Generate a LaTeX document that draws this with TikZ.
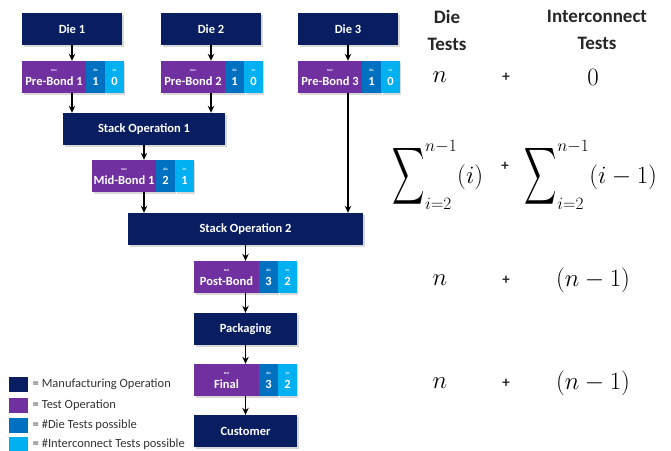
\documentclass[tikz,border=0pt]{standalone}
\usepackage{exscale}
\usepackage[no-math]{fontspec}
\setmainfont{Carlito}
\usetikzlibrary{arrows.meta,shadows,positioning}

\definecolor{navy}{RGB}{8,30,96}
\definecolor{tpurple}{RGB}{112,48,160}
\definecolor{dieblue}{RGB}{0,112,192}
\definecolor{intblue}{RGB}{0,176,240}

\newcommand{\tinylab}[1]{{\fontsize{3.5}{4}\selectfont #1}}
\newcommand{\bigsum}{\mathop{\vcenter{\hbox{\scalebox{0.9}[1.6]{$\displaystyle\sum$}}}}\nolimits}

\begin{document}
\begin{tikzpicture}[x=1pt,y=-1pt,
	box/.style={inner sep=0pt, minimum height=32pt, text=white,
		font=\bfseries\fontsize{12.5}{13}\selectfont,
		drop shadow={shadow xshift=1.5pt,shadow yshift=-1.5pt,opacity=.3,fill=gray}},
	mfg/.style={box, fill=navy},
	tst/.style={box, fill=tpurple, align=center},
	dcell/.style={box, fill=dieblue, minimum width=18.5pt, align=center},
	icell/.style={box, fill=intblue, minimum width=18.5pt, align=center},
	flow/.style={-{Stealth[length=7pt,width=6.5pt]}, line width=1.3pt},
	key/.style={minimum width=19pt, minimum height=15pt, inner sep=0pt},
	keytxt/.style={anchor=west, text=black!80, font=\fontsize{12.5}{13}\selectfont},
	hdr/.style={align=center, text=black!85, font=\bfseries\fontsize{19}{27}\selectfont},
	eq/.style={font=\fontsize{27}{30}\selectfont},
	sumeq/.style={font=\fontsize{25}{28}\selectfont},
	plus/.style={text=black!85, font=\bfseries\fontsize{15}{16}\selectfont}]
	\useasboundingbox (0,0) rectangle (671,450);

	% dies
	\node[mfg, minimum width=100pt] (die1) at (72,29) {Die 1};
	\node[mfg, minimum width=100pt] (die2) at (211,29) {Die 2};
	\node[mfg, minimum width=100pt] (die3) at (348,29) {Die 3};

	% pre-bond tests
	\node[tst, minimum width=64pt] (pb1) at (54,77) {\tinylab{test}\\[1pt]Pre-Bond 1};
	\node[dcell, right=0pt of pb1] (pb1d) {\tinylab{die}\\[1pt]1};
	\node[icell, right=0pt of pb1d] (pb1i) {\tinylab{int}\\[1pt]0};
	\node[tst, minimum width=64pt] (pb2) at (193,77) {\tinylab{test}\\[1pt]Pre-Bond 2};
	\node[dcell, right=0pt of pb2] (pb2d) {\tinylab{die}\\[1pt]1};
	\node[icell, right=0pt of pb2d] (pb2i) {\tinylab{int}\\[1pt]0};
	\node[tst, minimum width=64pt] (pb3) at (330,77) {\tinylab{test}\\[1pt]Pre-Bond 3};
	\node[dcell, right=0pt of pb3] (pb3d) {\tinylab{die}\\[1pt]1};
	\node[icell, right=0pt of pb3d] (pb3i) {\tinylab{int}\\[1pt]0};

	% stacking
	\node[mfg, minimum width=162pt] (so1) at (144,129) {Stack Operation 1};
	\node[tst, minimum width=64pt] (mb1) at (124,176) {\tinylab{test}\\[1pt]Mid-Bond 1};
	\node[dcell, right=0pt of mb1] (mb1d) {\tinylab{die}\\[1pt]2};
	\node[icell, right=0pt of mb1d] (mb1i) {\tinylab{int}\\[1pt]1};
	\node[mfg, minimum width=235pt] (so2) at (245.5,229) {Stack Operation 2};

	% back end
	\node[tst, minimum width=65pt] (pob) at (226.5,277) {\tinylab{test}\\[1pt]Post-Bond};
	\node[dcell, right=0pt of pob] (pobd) {\tinylab{die}\\[1pt]3};
	\node[icell, right=0pt of pobd] (pobi) {\tinylab{int}\\[1pt]2};
	\node[mfg, minimum width=103pt] (pack) at (245.5,329) {Packaging};
	\node[tst, minimum width=65pt] (fin) at (226.5,380) {\tinylab{test}\\[1pt]Final};
	\node[dcell, right=0pt of fin] (find) {\tinylab{die}\\[1pt]3};
	\node[icell, right=0pt of find] (fini) {\tinylab{int}\\[1pt]2};
	\node[mfg, minimum width=103pt] (cust) at (245.5,431) {Customer};

	% flow
	\draw[flow] (die1) -- (pb1.north -| die1);
	\draw[flow] (die2) -- (pb2.north -| die2);
	\draw[flow] (die3) -- (pb3.north -| die3);
	\draw[flow] (pb1.south -| die1) -- (so1.north -| die1);
	\draw[flow] (pb2.south -| die2) -- (so1.north -| die2);
	\draw[flow] (pb3.south -| die3) -- (so2.north -| die3);
	\draw[flow] (so1) -- (mb1.north -| so1);
	\draw[flow] (mb1.south -| so1) -- (so2.north -| so1);
	\draw[flow] (so2) -- (pob.north -| so2);
	\draw[flow] (pob.south -| so2) -- (pack);
	\draw[flow] (pack) -- (fin.north -| pack);
	\draw[flow] (fin.south -| pack) -- (cust);

	% legend
	\node[key, fill=navy] (k1) at (18.5,384) {};
	\node[keytxt, right=1pt of k1] (t1) {= Manufacturing Operation};
	\node[key, fill=tpurple] (k2) at (18.5,405) {};
	\node[keytxt, right=1pt of k2] (t2) {= Test Operation};
	\node[key, fill=dieblue] (k3) at (18.5,425) {};
	\node[keytxt, right=1pt of k3] (t3) {= \#Die Tests possible};
	\node[key, fill=intblue] (k4) at (18.5,444) {};
	\node[keytxt, right=1pt of k4] (t4) {= \#Interconnect Tests possible};

	% test counts
	\node[hdr] (hdie) at (447,30) {Die\\Tests};
	\node[hdr] (hint) at (597,30) {Interconnect\\Tests};
	\node[eq] (n1) at (440,77) {$n$};
	\node[plus] (p1) at (506,77) {+};
	\node[eq] (c1) at (593,77) {$0$};
	\node[sumeq] (s1) at (438,175) {$\bigsum_{i=2}^{n-1}(i)$};
	\node[plus] (p2) at (505,166) {+};
	\node[sumeq] (s2) at (591,175) {$\bigsum_{i=2}^{n-1}(i-1)$};
	\node[eq] (n3) at (440,280) {$n$};
	\node[plus] (p3) at (506,280) {+};
	\node[eq] (c3) at (593,280) {$(n-1)$};
	\node[eq] (n4) at (440,383) {$n$};
	\node[plus] (p4) at (506,383) {+};
	\node[eq] (c4) at (593,383) {$(n-1)$};
\end{tikzpicture}
\end{document}
